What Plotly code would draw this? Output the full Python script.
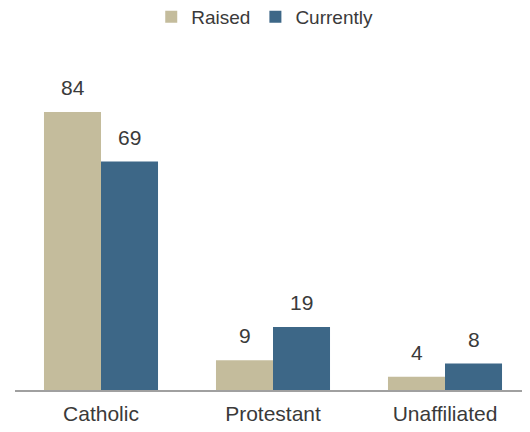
import plotly.graph_objects as go

categories = ["Catholic", "Protestant", "Unaffiliated"]
raised = [84, 9, 4]
currently = [69, 19, 8]
series_names = ["Raised", "Currently"]

colors = ["#c4bc9c", "#3d6787"]
font_family = "Liberation Sans, Arial, sans-serif"
text_color = "#3a3a3a"

fig = go.Figure()
for name, vals, col in zip(series_names, [raised, currently], colors):
    fig.add_trace(go.Bar(
        x=categories, y=vals, name=name, marker_color=col,
        marker_line_width=0, cliponaxis=False,
    ))

# value labels above bars
for k, vals in enumerate([raised, currently]):
    shift = -28.5 if k == 0 else 28.5
    for cat, v in zip(categories, vals):
        fig.add_annotation(x=cat, y=v, text=str(v), showarrow=False,
                           xshift=shift, yshift=11, yanchor="bottom",
                           font=dict(size=21, color=text_color, family=font_family))

fig.update_layout(
    width=530, height=432,
    margin=dict(l=7, r=7, t=51, b=50, autoexpand=False),
    barmode="group", bargap=0.337, bargroupgap=0,
    plot_bgcolor="white", paper_bgcolor="white",
    font=dict(family=font_family, color=text_color, size=20),
    legend=dict(orientation="h", x=0.484, xanchor="center", xref="paper",
                y=1.127, yanchor="middle", yref="paper",
                font=dict(size=19, color=text_color), itemwidth=30,
                traceorder="normal"),
)
fig.update_xaxes(showline=True, linecolor="#a0a0a0", linewidth=1.5,
                 ticks="", tickfont=dict(size=21, color=text_color),
                 ticklabelstandoff=4, showgrid=False, automargin=False)
fig.update_yaxes(range=[0, 100], visible=False, showgrid=False, zeroline=False)

fig.write_html("out.html")
